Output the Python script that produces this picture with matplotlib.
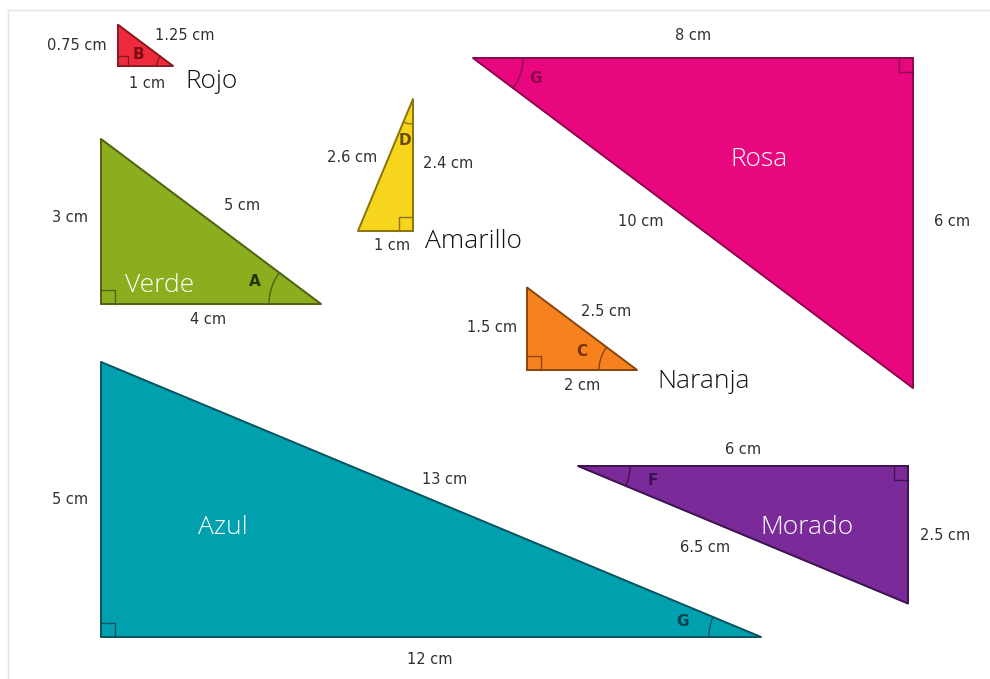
import matplotlib.pyplot as plt
import numpy as np

# datos: catetos en cm
nombres = ['Rojo', 'Verde', 'Amarillo', 'Rosa', 'Naranja', 'Azul', 'Morado']
cateto_h = [1, 4, 1, 8, 2, 12, 6]
cateto_v = [0.75, 3, 2.4, 6, 1.5, 5, 2.5]
hipotenusa = [1.25, 5, 2.6, 10, 2.5, 13, 6.5]
angulos = ['B', 'A', 'D', 'G', 'C', 'G', 'F']

# estilo
relleno = ['#ee2a3c', '#8cae1e', '#f7d51d', '#e8077f', '#f5821f', '#00a0ae', '#7b2a9a']
borde = ['#8a1a22', '#4f6212', '#8a7410', '#8a0a4c', '#8a4510', '#0a5560', '#3e1450']
letra = ['#7a1010', '#26300a', '#6a4a00', '#8a0048', '#7a3000', '#0b4050', '#3a1050']
color_nombre = ['#111111', 'white', '#111111', 'white', '#111111', 'white', 'white']

# layout en pixeles
escala = 55.0
esquina = [(118, 66), (101, 304), (413, 231), (913, 58), (527, 370), (101, 637), (908, 466)]
dir_h = [1, 1, -1, -1, 1, 1, -1]
dir_v = [-1, -1, -1, 1, -1, -1, 1]
vertice_ang = ['h', 'h', 'v', 'h', 'h', 'h', 'h']
radio_arco = [16, 52, 25, 50, 38, 52, 52]
dist_letra = [36, 70, 42, 66, 58, 80, 76]
pos_h = [(147, 84), (208, 320), (392, 245), (693, 35), (582, 386), (430, 660), (743, 450)]
pos_v = [(77, 45), (70, 218), (448, 164), (952, 222), (492, 328), (70, 500), (945, 536)]
pos_hip = [(185, 36), (242, 206), (352, 158), (641, 222), (606, 312), (445, 480), (705, 547)]
pos_nombre = [(185, 82, 'left'), (160, 285, 'center'), (425, 242, 'left'), (759, 160, 'center'),
              (657, 382, 'left'), (223, 528, 'center'), (807, 528, 'center')]
lado_cuadro = [10, 14, 14, 14, 14, 14, 14]

fig = plt.figure(figsize=(9.9, 6.79), dpi=100)
ax = fig.add_axes([0, 0, 1, 1])
ax.set_xlim(0, 990)
ax.set_ylim(679, 0)
ax.axis('off')

ax.plot([8, 990], [10, 10], color='#e4e4e4', lw=1)
ax.plot([8, 8], [10, 679], color='#e4e4e4', lw=1)

for i in range(len(nombres)):
    c = np.array(esquina[i], dtype=float)
    u = np.array([dir_h[i], 0.0])
    v = np.array([0.0, dir_v[i]])
    ph = c + u * cateto_h[i] * escala
    pv = c + v * cateto_v[i] * escala
    tri = np.array([c, ph, pv, c])
    ax.fill(tri[:, 0], tri[:, 1], color=relleno[i], zorder=2)
    ax.plot(tri[:, 0], tri[:, 1], color=borde[i], lw=1.4, zorder=3)

    # angulo recto
    s = lado_cuadro[i]
    q = np.array([c + s * u, c + s * u + s * v, c + s * v])
    ax.plot(q[:, 0], q[:, 1], color=borde[i], lw=1.0, zorder=3)

    # arco del angulo
    if vertice_ang[i] == 'h':
        p0, a, b = ph, c, pv
    else:
        p0, a, b = pv, c, ph
    da = (a - p0) / np.linalg.norm(a - p0)
    db = (b - p0) / np.linalg.norm(b - p0)
    t1 = np.arctan2(da[1], da[0])
    t2 = np.arctan2(db[1], db[0])
    if t2 - t1 > np.pi:
        t2 -= 2 * np.pi
    if t1 - t2 > np.pi:
        t1 -= 2 * np.pi
    t = np.linspace(t1, t2, 30)
    r = radio_arco[i]
    ax.plot(p0[0] + r * np.cos(t), p0[1] + r * np.sin(t), color=borde[i], lw=1.0, zorder=3)
    bis = (da + db) / np.linalg.norm(da + db)
    pl = p0 + bis * dist_letra[i]
    ax.text(pl[0], pl[1], angulos[i], color=letra[i], fontsize=11, fontweight='bold',
            ha='center', va='center', zorder=4)

    # medidas
    for pos, val in [(pos_h[i], cateto_h[i]), (pos_v[i], cateto_v[i]), (pos_hip[i], hipotenusa[i])]:
        ax.text(pos[0], pos[1], f'{val:g} cm', color='#303030', fontsize=10.5,
                ha='center', va='center', zorder=4)

    x, y, al = pos_nombre[i]
    ax.text(x, y, nombres[i], color=color_nombre[i], fontsize=19, fontfamily='Open Sans',
            fontweight='light', ha=al, va='center', zorder=4)

fig.savefig('out.png', dpi=100)
